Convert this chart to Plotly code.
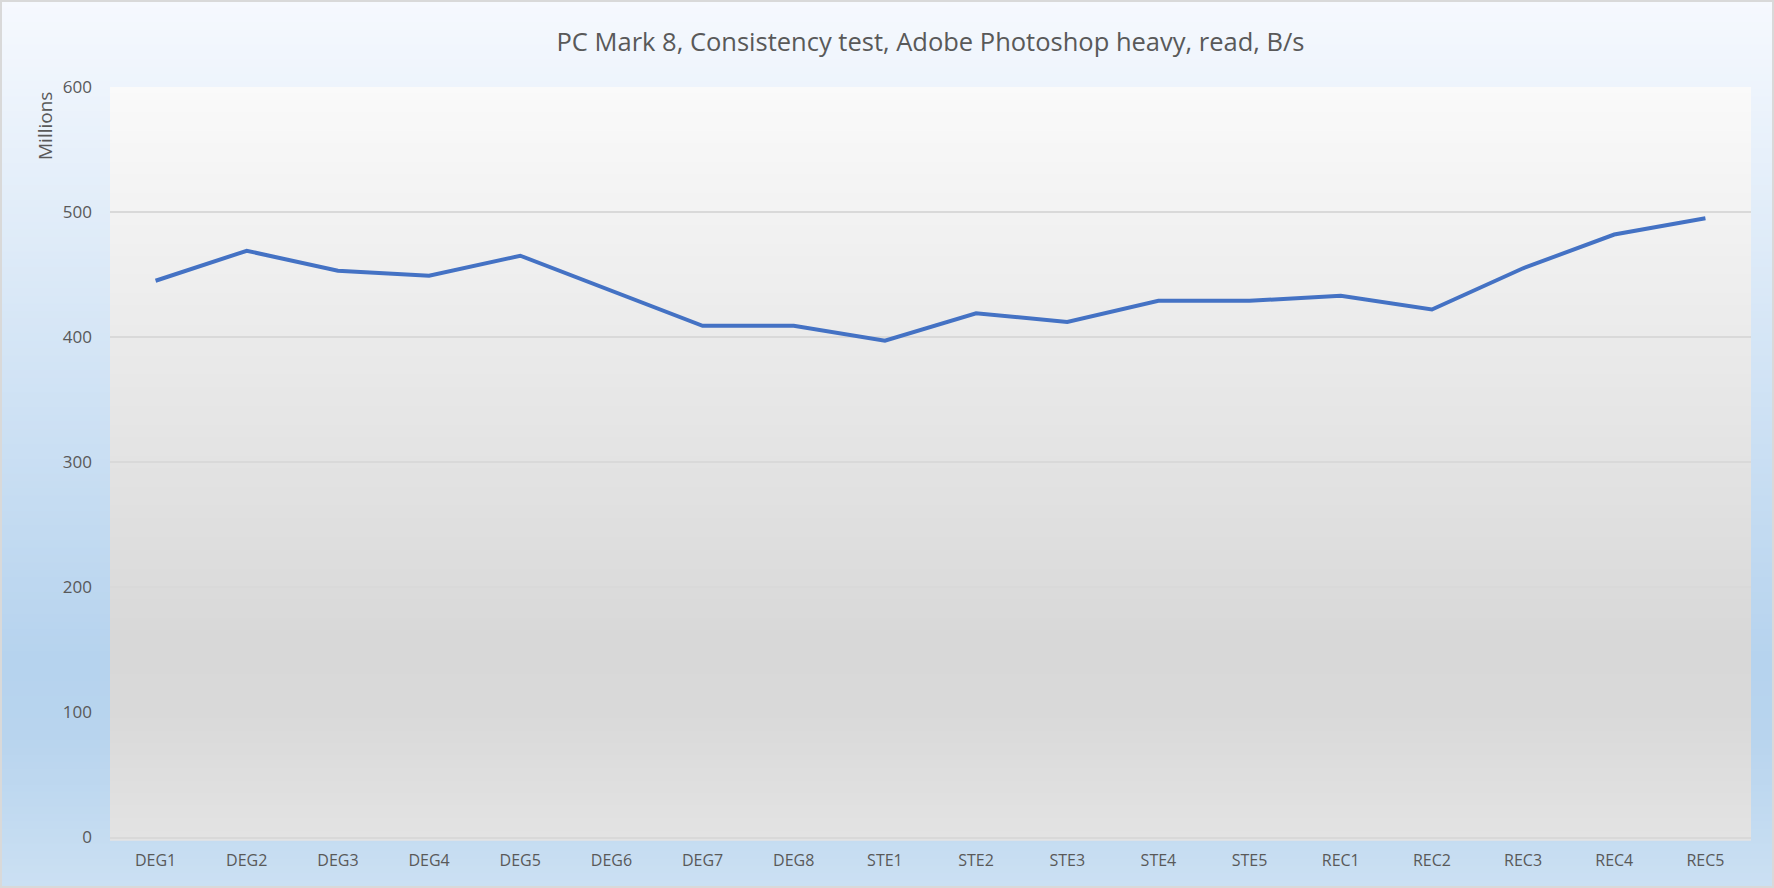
import plotly.graph_objects as go

# --- DATA ---
CATEGORIES = ["DEG1", "DEG2", "DEG3", "DEG4", "DEG5", "DEG6", "DEG7", "DEG8",
              "STE1", "STE2", "STE3", "STE4", "STE5",
              "REC1", "REC2", "REC3", "REC4", "REC5"]
READ_MBPS = [445, 469, 453, 449, 465, 437, 409, 409,
             397, 419, 412, 429, 429,
             433, 422, 455, 482, 495]
Y_TICKS = [0, 100, 200, 300, 400, 500, 600]

# --- THEME ---
W, H = 1774, 888
M_L, M_R, M_T, M_B = 110, 23, 87, 51
TEXT_COLOR = "#595959"
GRID_COLOR = "#d9d9d9"
LINE_COLOR = "#4472c4"
FONT = "Open Sans"

# gradient stops (fraction from top, colour)
PAPER_STOPS = [(0.0, "#f6f9fe"), (0.74, "#b6d3ee"), (0.83, "#b8d4ee"), (1.0, "#cbe0f3")]
PLOT_STOPS = [(0.0, "#fafafa"), (0.74, "#d8d8d8"), (0.83, "#d9d9d9"), (1.0, "#e3e3e3")]


def hex_rgb(h):
    h = h.lstrip("#")
    return tuple(int(h[i:i + 2], 16) for i in (0, 2, 4))


def grad_color(stops, t):
    for (t0, c0), (t1, c1) in zip(stops, stops[1:]):
        if t0 <= t <= t1:
            f = 0 if t1 == t0 else (t - t0) / (t1 - t0)
            a, b = hex_rgb(c0), hex_rgb(c1)
            return "rgb(%d,%d,%d)" % tuple(round(a[i] + (b[i] - a[i]) * f) for i in range(3))
    return stops[-1][1]


def bands(stops, x0, x1, y_top, y_bot, n=120):
    out = []
    step = (y_top - y_bot) / n
    for i in range(n):
        top = y_top - i * step
        out.append(dict(
            type="rect", xref="paper", yref="paper", layer="below",
            x0=x0, x1=x1, y0=top - step * 1.6, y1=top,
            fillcolor=grad_color(stops, (i + 0.5) / n),
            line=dict(width=0),
        ))
    return out


pw = W - M_L - M_R
ph = H - M_T - M_B
px0, px1 = -M_L / pw, (pw + M_R) / pw
py0, py1 = -M_B / ph, (ph + M_T) / ph

shapes = bands(PAPER_STOPS, px0, px1, py1, py0) + bands(PLOT_STOPS, 0, 1, 1, 0)
shapes.append(dict(type="rect", xref="paper", yref="paper", layer="above",
                   x0=px0 + 1 / pw, x1=px1 - 1 / pw, y0=py0 + 1 / ph, y1=py1 - 1 / ph,
                   line=dict(color=GRID_COLOR, width=2)))

fig = go.Figure()
fig.add_trace(go.Scatter(
    x=CATEGORIES, y=READ_MBPS, mode="lines",
    line=dict(color=LINE_COLOR, width=4),
    showlegend=False,
))

fig.update_layout(
    width=W, height=H,
    margin=dict(l=M_L, r=M_R, t=M_T, b=M_B),
    paper_bgcolor="#eef4fb",
    plot_bgcolor="rgba(0,0,0,0)",
    font=dict(family=FONT, color=TEXT_COLOR, size=16),
    title=dict(text="PC Mark 8, Consistency test, Adobe Photoshop heavy, read, B/s",
               x=0.5, xref="paper", y=1 - 42 / H, yanchor="middle",
               font=dict(size=25.5, color=TEXT_COLOR, family=FONT)),
    xaxis=dict(
        range=[-0.5, len(CATEGORIES) - 0.5],
        showgrid=False, showline=True, linecolor=GRID_COLOR, linewidth=1.5,
        ticks="", tickfont=dict(size=16, color=TEXT_COLOR),
        ticklabelstandoff=8,
    ),
    yaxis=dict(
        range=[0, 600], tickvals=Y_TICKS,
        showgrid=True, gridcolor=GRID_COLOR, gridwidth=1.5,
        zeroline=False, showline=False, ticks="",
        tickfont=dict(size=17, color=TEXT_COLOR),
        ticklabelstandoff=17,
    ),
    shapes=shapes,
    annotations=[dict(
        text="Millions", textangle=-90, showarrow=False,
        xref="paper", yref="paper", x=(45 - M_L) / pw, y=(ph + M_T - 126) / ph,
        xanchor="center", yanchor="middle",
        font=dict(size=19, color=TEXT_COLOR, family=FONT),
    )],
)

# the page body has a default 8px margin; drop it so the chart fills the window
fig.write_html("out.html", config={"displayModeBar": False},
               post_script="document.body.style.margin='0';")
